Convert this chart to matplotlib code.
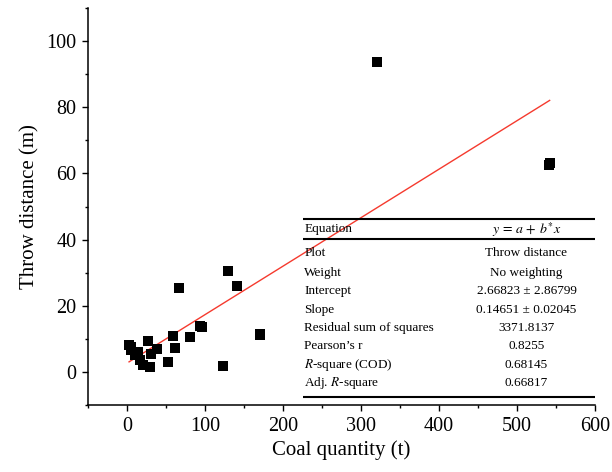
import matplotlib
matplotlib.use("Agg")
import matplotlib.pyplot as plt
from matplotlib.ticker import MultipleLocator
import numpy as np

plt.rcParams['font.family'] = ['Liberation Serif', 'DejaVu Serif']
plt.rcParams['mathtext.fontset'] = 'stix'

# Data
coal_t = [320, 542, 541, 130, 140.6, 67, 93.6, 96, 80.8, 59.4, 61.5, 53, 123.5,
          170, 171, 29.5, 21, 16.7, 27.3, 38, 14.5, 4.7, 5, 2.5, 10, 31]
throw_m = [93.7, 63.3, 62.5, 30.5, 26, 25.3, 14, 13.7, 10.7, 10.9, 7.2, 2.9, 1.8,
           11.6, 11.1, 1.6, 2.1, 3.6, 9.4, 6.9, 6.1, 7.6, 6.6, 8.0, 5.0, 5.5]

intercept = 2.66823
slope = 0.14651

table_labels = ["Plot", "Weight", "Intercept", "Slope", "Residual sum of squares",
                "Pearson\u2019s r", "$R$-square (COD)", "Adj. $R$-square"]
table_values = ["Throw distance", "No weighting", "2.66823 \u00b1 2.86799",
                "0.14651 \u00b1 0.02045", "3371.8137", "0.8255", "0.68145", "0.66817"]

fig = plt.figure(figsize=(6.12, 4.72), dpi=100)
ax = fig.add_axes([0.144, 0.142, 0.828, 0.841])

ax.scatter(coal_t, throw_m, marker='s', s=48, color='black', zorder=3, linewidths=0)
fx = np.array([min(coal_t), max(coal_t)])
ax.plot(fx, intercept + slope * fx, color='#f53a2e', lw=1.0, zorder=2)

ax.set_xlim(-50, 600)
ax.set_ylim(-10, 110)
ax.xaxis.set_minor_locator(MultipleLocator(50))
ax.yaxis.set_minor_locator(MultipleLocator(10))
ax.set_xticks(range(0, 601, 100))
ax.set_yticks(range(0, 101, 20))

for s in ['top', 'right']:
    ax.spines[s].set_visible(False)
for s in ['left', 'bottom']:
    ax.spines[s].set_linewidth(1.1)
ax.tick_params(which='major', direction='out', length=4.5, width=1.0, labelsize=14.5, pad=4)
ax.tick_params(which='minor', direction='out', length=2.5, width=1.0)

ax.set_xlabel("Coal quantity (t)", fontsize=15, labelpad=3)
ax.set_ylabel("Throw distance (m)", fontsize=15, labelpad=5)

# Statistics table
tf = 9.5
xl, xr = 0.4247, 1.0
for yy in [0.4685, 0.418, 0.0209]:
    ax.plot([xl, xr], [yy, yy], transform=ax.transAxes, color='black', lw=1.5,
            clip_on=False, solid_capstyle='butt')
ax.text(0.4267, 0.443, "Equation", transform=ax.transAxes, fontsize=tf, va='center', ha='left')
ax.text(0.865, 0.443, "$y\\,=\\,a\\,+\\,b^{*}x$", transform=ax.transAxes, fontsize=tf + 0.5,
        va='center', ha='center')
row_y = [0.382, 0.333, 0.287, 0.239, 0.193, 0.149, 0.101, 0.056]
for lab, val, yy in zip(table_labels, table_values, row_y):
    ax.text(0.4267, yy, lab, transform=ax.transAxes, fontsize=tf, va='center', ha='left')
    ax.text(0.865, yy, val, transform=ax.transAxes, fontsize=tf, va='center', ha='center')

fig.savefig("out.png", dpi=100)
